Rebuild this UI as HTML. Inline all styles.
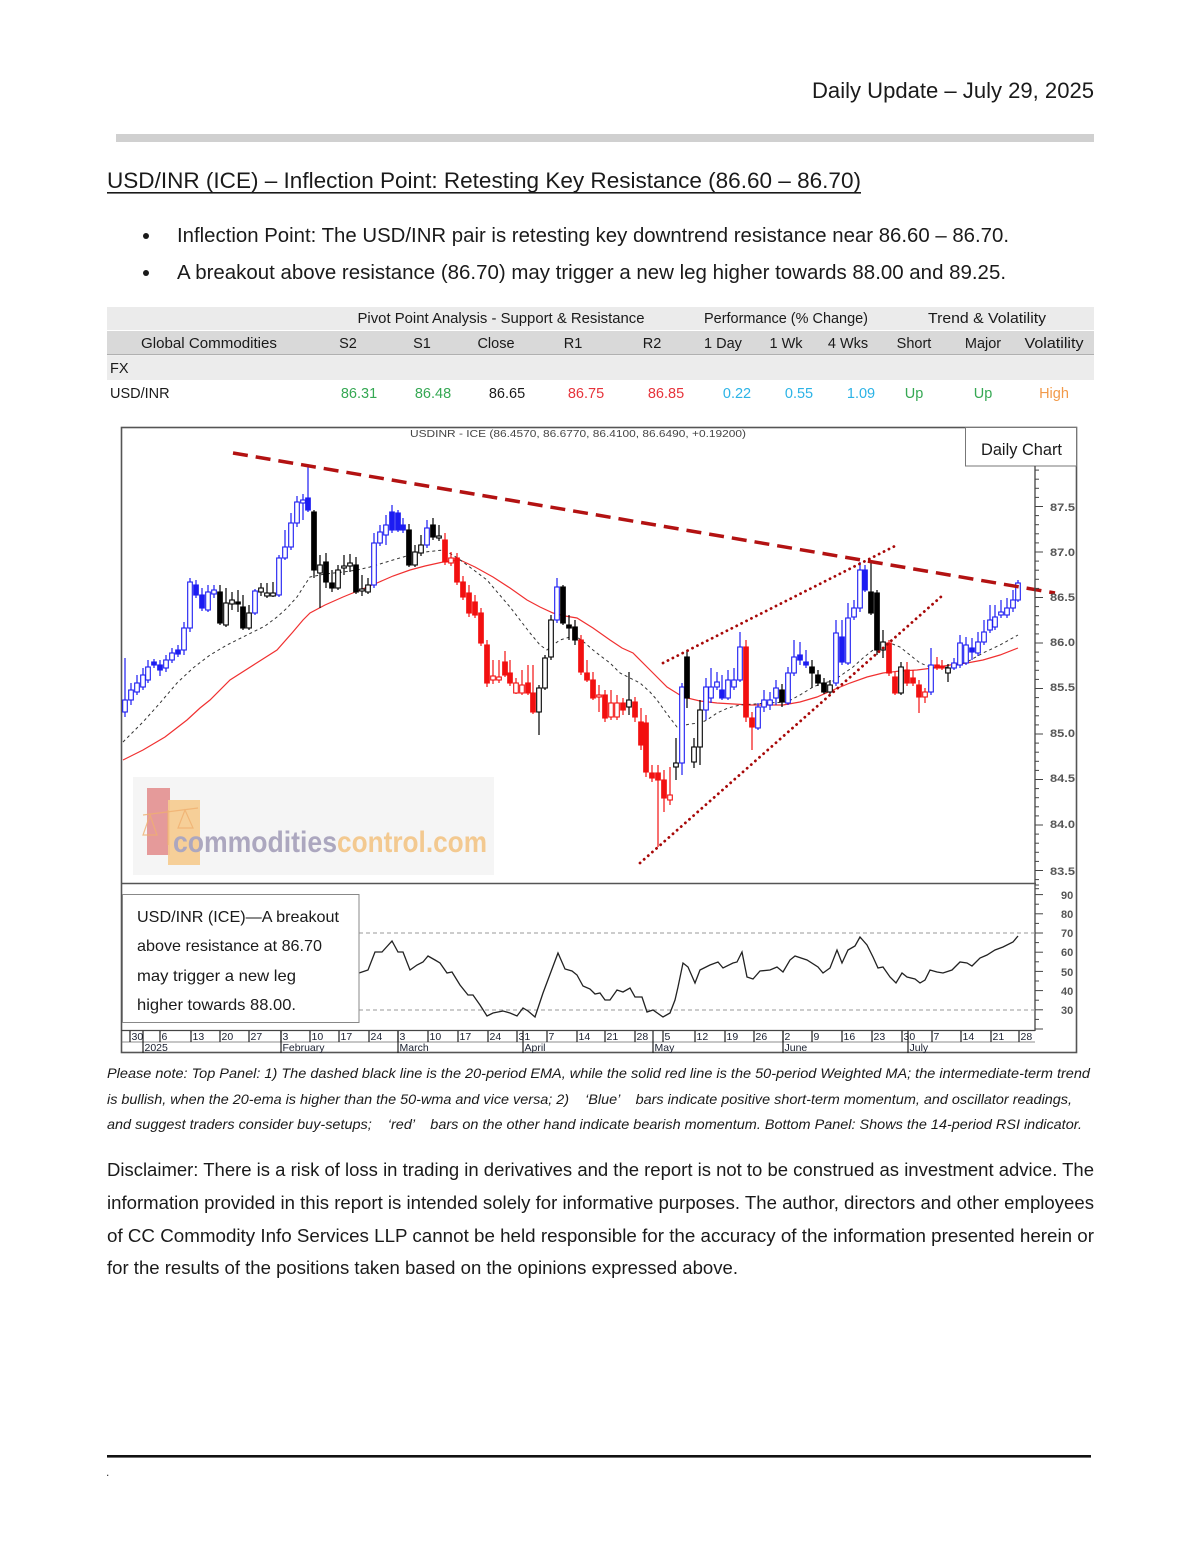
<!DOCTYPE html>
<html><head><meta charset="utf-8">
<style>
html,body{margin:0;padding:0;background:#fff;}
svg{display:block;}
text{font-family:"Liberation Sans",Arial,sans-serif;}
</style></head>
<body>
<svg id="pg" xmlns="http://www.w3.org/2000/svg" width="1200" height="1553" viewBox="0 0 1200 1553">
<rect width="1200" height="1553" fill="#fff"/>
<!-- Header -->
<text x="1094" y="98" font-size="22" fill="#1a1a1a" text-anchor="end" textLength="282" lengthAdjust="spacingAndGlyphs">Daily Update – July 29, 2025</text>
<rect x="116" y="134" width="978" height="8" fill="#d0d0d0"/>
<text x="107" y="188" font-size="22" fill="#1a1a1a" textLength="754" lengthAdjust="spacingAndGlyphs">USD/INR (ICE) – Inflection Point: Retesting Key Resistance (86.60 – 86.70)</text>
<rect x="107" y="192" width="754" height="1.6" fill="#1a1a1a"/>
<circle cx="146" cy="236" r="3" fill="#1a1a1a"/>
<circle cx="146" cy="273" r="3" fill="#1a1a1a"/>
<text x="177" y="242" font-size="20" fill="#1a1a1a" textLength="832" lengthAdjust="spacingAndGlyphs">Inflection Point: The USD/INR pair is retesting key downtrend resistance near 86.60 – 86.70.</text>
<text x="177" y="279" font-size="20" fill="#1a1a1a" textLength="829" lengthAdjust="spacingAndGlyphs">A breakout above resistance (86.70) may trigger a new leg higher towards 88.00 and 89.25.</text>

<!-- Table -->
<rect x="107" y="307" width="987" height="23" fill="#ebebeb"/>
<rect x="107" y="331" width="987" height="24" fill="#d9d9d9"/>
<rect x="107" y="354" width="987" height="1.2" fill="#b0b0b0"/>
<rect x="107" y="356" width="987" height="24" fill="#ececec"/>
<g font-size="14.5" fill="#1a1a1a">
<text x="501" y="323" text-anchor="middle" textLength="287" lengthAdjust="spacingAndGlyphs">Pivot Point Analysis - Support &amp; Resistance</text>
<text x="786" y="323" text-anchor="middle" textLength="164" lengthAdjust="spacingAndGlyphs">Performance (% Change)</text>
<text x="987" y="323" text-anchor="middle" textLength="118" lengthAdjust="spacingAndGlyphs">Trend &amp; Volatility</text>
<text x="209" y="348" text-anchor="middle" textLength="136" lengthAdjust="spacingAndGlyphs">Global Commodities</text>
<text x="348" y="348" text-anchor="middle">S2</text>
<text x="422" y="348" text-anchor="middle">S1</text>
<text x="496" y="348" text-anchor="middle">Close</text>
<text x="573" y="348" text-anchor="middle">R1</text>
<text x="652" y="348" text-anchor="middle">R2</text>
<text x="723" y="348" text-anchor="middle">1 Day</text>
<text x="786" y="348" text-anchor="middle">1 Wk</text>
<text x="848" y="348" text-anchor="middle">4 Wks</text>
<text x="914" y="348" text-anchor="middle">Short</text>
<text x="983" y="348" text-anchor="middle">Major</text>
<text x="1054" y="348" text-anchor="middle" textLength="59" lengthAdjust="spacingAndGlyphs">Volatility</text>
<text x="110" y="373">FX</text>
<text x="110" y="398">USD/INR</text>
<text x="359" y="398" text-anchor="middle" fill="#35a853">86.31</text>
<text x="433" y="398" text-anchor="middle" fill="#35a853">86.48</text>
<text x="507" y="398" text-anchor="middle">86.65</text>
<text x="586" y="398" text-anchor="middle" fill="#e6333b">86.75</text>
<text x="666" y="398" text-anchor="middle" fill="#e6333b">86.85</text>
<text x="737" y="398" text-anchor="middle" fill="#2bb3e6">0.22</text>
<text x="799" y="398" text-anchor="middle" fill="#2bb3e6">0.55</text>
<text x="861" y="398" text-anchor="middle" fill="#2bb3e6">1.09</text>
<text x="914" y="398" text-anchor="middle" fill="#35a853">Up</text>
<text x="983" y="398" text-anchor="middle" fill="#35a853">Up</text>
<text x="1054" y="398" text-anchor="middle" fill="#f29a4a">High</text>
</g>

<!-- Chart frame -->
<rect x="121.5" y="427.5" width="955" height="625" fill="#fff" stroke="#555" stroke-width="1.6"/>
<text x="578" y="437" font-size="10" fill="#444" text-anchor="middle" textLength="336" lengthAdjust="spacingAndGlyphs">USDINR - ICE (86.4570, 86.6770, 86.4100, 86.6490, +0.19200)</text>

<!-- watermark -->
<rect x="133" y="777" width="361" height="98" fill="#f5f5f5"/>
<rect x="147" y="788" width="23" height="67" fill="#e39090" opacity="0.9"/>
<rect x="168" y="800" width="32" height="65" fill="#f6cb8e" opacity="0.9"/>
<g stroke="#f0b070" stroke-width="1.2" fill="none" opacity="0.8">
<line x1="143" y1="815" x2="198" y2="808"/>
<path d="M150 815 L143 835 L157 835 Z"/>
<path d="M185 810 L178 828 L193 828 Z"/>
<line x1="168" y1="810" x2="168" y2="845"/>
</g>
<text x="173" y="852" font-size="30" font-weight="bold" fill="#aca7bf" textLength="164" lengthAdjust="spacingAndGlyphs">commodities</text>
<text x="337" y="852" font-size="30" font-weight="bold" fill="#f3c990" textLength="150" lengthAdjust="spacingAndGlyphs">control.com</text>

<!-- MAs -->
<polyline fill="none" stroke="#f03030" stroke-width="1.2" points="123,760 143,750 165,737 187,720 200,708 210,700 230,680 255,664 277,650 292,633 303,620 310,613 325,605 343,597 360,590 377,583 393,576 410,570 425,566 443,562 460,560 475,567 493,577 510,588 527,600 540,607 553,613 565,616 577,618 593,628 610,640 622,648 633,653 650,670 667,687 683,697 700,701 717,703 750,705 783,705 800,702 817,697 833,690 850,683 867,677 883,673 900,671 917,670 933,668 950,665 967,663 983,660 1000,655 1018,648"/>
<polyline fill="none" stroke="#333" stroke-width="1" stroke-dasharray="3,3" points="123,742 143,722 160,703 177,683 193,668 210,655 227,645 243,637 253,632 265,626 277,617 287,608 297,597 304,586 310,577 325,574 343,572 357,570 370,567 380,564 393,560 410,555 425,552 443,550 453,555 463,562 475,571 487,580 498,593 510,607 520,620 530,633 540,645 547,650 553,645 560,640 570,637 577,637 585,643 593,650 602,657 610,663 620,673 630,678 640,683 650,692 657,700 667,714 677,727 690,724 700,723 707,720 717,713 728,708 740,705 755,704 767,703 787,702 800,695 813,687 823,683 833,681 843,674 853,667 863,658 873,650 883,645 890,643 900,647 910,655 920,663 933,668 950,667 967,662 983,653 1000,645 1018,635"/>

<g id="candles"></g>

<!-- trend lines -->
<line x1="233" y1="453" x2="1055" y2="593" stroke="#b31212" stroke-width="3.5" stroke-dasharray="15,8"/>
<line x1="663" y1="663" x2="897" y2="545" stroke="#a80808" stroke-width="2.8" stroke-linecap="round" stroke-dasharray="0.1,5.4"/>
<line x1="640" y1="863" x2="943" y2="595" stroke="#a80808" stroke-width="2.8" stroke-linecap="round" stroke-dasharray="0.1,5.4"/>

<!-- Daily chart box -->
<rect x="965.5" y="427.5" width="111" height="38.5" fill="#fff" stroke="#777" stroke-width="1"/>
<text x="981" y="455" font-size="17" fill="#1a1a1a" textLength="81" lengthAdjust="spacingAndGlyphs">Daily Chart</text>

<!-- axes -->
<line x1="1035" y1="466" x2="1035" y2="1031" stroke="#444" stroke-width="1.3"/>
<line x1="121" y1="883.5" x2="1036" y2="883.5" stroke="#555" stroke-width="1.6"/>
<g id="pticks" stroke="#444" stroke-width="1"></g>
<g font-size="11" fill="#555" font-weight="bold">
<text x="1050" y="511" textLength="25" lengthAdjust="spacingAndGlyphs">87.5</text>
<text x="1050" y="556" textLength="25" lengthAdjust="spacingAndGlyphs">87.0</text>
<text x="1050" y="601" textLength="25" lengthAdjust="spacingAndGlyphs">86.5</text>
<text x="1050" y="646" textLength="25" lengthAdjust="spacingAndGlyphs">86.0</text>
<text x="1050" y="691" textLength="25" lengthAdjust="spacingAndGlyphs">85.5</text>
<text x="1050" y="737" textLength="25" lengthAdjust="spacingAndGlyphs">85.0</text>
<text x="1050" y="782" textLength="25" lengthAdjust="spacingAndGlyphs">84.5</text>
<text x="1050" y="828" textLength="25" lengthAdjust="spacingAndGlyphs">84.0</text>
<text x="1050" y="875" textLength="25" lengthAdjust="spacingAndGlyphs">83.5</text>
<text x="1061" y="899">90</text>
<text x="1061" y="918">80</text>
<text x="1061" y="937">70</text>
<text x="1061" y="956">60</text>
<text x="1061" y="976">50</text>
<text x="1061" y="995">40</text>
<text x="1061" y="1014">30</text>
</g>

<!-- RSI -->
<line x1="359" y1="933" x2="1035" y2="933" stroke="#999" stroke-width="1" stroke-dasharray="4,3"/>
<line x1="359" y1="1010" x2="1035" y2="1010" stroke="#999" stroke-width="1" stroke-dasharray="4,3"/>
<polyline fill="none" stroke="#222" stroke-width="1.3" points="359,973 368,970 375,952 382,952 392,941 398,952 403,952 410,970 417,965 423,962 428,956 435,960 440,963 447,973 452,972 460,985 468,995 473,995 480,1005 487,1016 493,1013 503,1011 510,1013 517,1016 523,1008 528,1011 535,1017 543,993 558,953 565,969 572,971 577,975 583,986 590,989 595,994 600,993 605,1000 610,1000 617,990 623,992 630,988 635,997 642,997 647,1012 653,1010 663,1017 670,1013 675,1000 678,987 683,963 688,967 695,983 700,970 710,965 718,962 723,968 733,963 737,962 742,952 747,977 753,979 760,971 770,970 777,967 783,972 790,960 795,956 807,960 818,967 823,973 830,968 837,950 842,963 848,950 855,946 860,937 867,945 873,957 878,968 883,967 890,977 896,983 902,973 907,977 915,979 920,983 925,980 930,970 937,972 943,973 952,970 960,962 967,963 972,966 980,958 987,955 995,950 1003,947 1013,942 1018,936"/>
<rect x="122.5" y="894.5" width="236.5" height="128" fill="#fff" stroke="#888" stroke-width="1"/>
<g font-size="16" fill="#1a1a1a">
<text x="137" y="922" textLength="202" lengthAdjust="spacingAndGlyphs">USD/INR (ICE)—A breakout</text>
<text x="137" y="951" textLength="185" lengthAdjust="spacingAndGlyphs">above resistance at 86.70</text>
<text x="137" y="981" textLength="159" lengthAdjust="spacingAndGlyphs">may trigger a new leg</text>
<text x="137" y="1010" textLength="159" lengthAdjust="spacingAndGlyphs">higher towards 88.00.</text>
</g>

<!-- date axis -->
<line x1="121" y1="1030.5" x2="1035" y2="1030.5" stroke="#444" stroke-width="1.2"/>
<line x1="121" y1="1042" x2="1035" y2="1042" stroke="#666" stroke-width="0.8"/>
<g id="dates" font-size="10.5" fill="#1a2030"></g>

<!-- notes -->
<g font-size="14" font-style="italic" fill="#1a1a1a">
<text x="107" y="1078" textLength="983" lengthAdjust="spacingAndGlyphs">Please note: Top Panel: 1) The dashed black line is the 20-period EMA, while the solid red line is the 50-period Weighted MA; the intermediate-term trend</text>
<text x="107" y="1104" textLength="965" lengthAdjust="spacingAndGlyphs" xml:space="preserve">is bullish, when the 20-ema is higher than the 50-wma and vice versa; 2)    ‘Blue’    bars indicate positive short-term momentum, and oscillator readings,</text>
<text x="107" y="1129" textLength="975" lengthAdjust="spacingAndGlyphs" xml:space="preserve">and suggest traders consider buy-setups;    ‘red’    bars on the other hand indicate bearish momentum. Bottom Panel: Shows the 14-period RSI indicator.</text>
</g>
<g font-size="18" fill="#1a1a1a">
<text x="107" y="1176" textLength="987" lengthAdjust="spacingAndGlyphs">Disclaimer: There is a risk of loss in trading in derivatives and the report is not to be construed as investment advice. The</text>
<text x="107" y="1209" textLength="987" lengthAdjust="spacingAndGlyphs">information provided in this report is intended solely for informative purposes. The author, directors and other employees</text>
<text x="107" y="1242" textLength="987" lengthAdjust="spacingAndGlyphs">of CC Commodity Info Services LLP cannot be held responsible for the accuracy of the information presented herein or</text>
<text x="107" y="1274" textLength="631" lengthAdjust="spacingAndGlyphs">for the results of the positions taken based on the opinions expressed above.</text>
</g>
<rect x="107" y="1455" width="984" height="2.6" fill="#111"/>
<text x="106" y="1476" font-size="12" fill="#333">.</text>
</svg>
<script>
(function(){
var C=[
[125,700,712,658,717,'b'],[131,690,700,683,705,'b'],[137,683,692,675,695,'b'],[143,675,687,668,690,'b'],[148,667,680,660,683,'b'],
[154,662,665,659,668,'B'],[160,665,670,660,676,'B'],[166,660,668,655,672,'b'],[172,653,660,648,663,'b'],[178,650,654,645,657,'B'],
[184,628,650,622,655,'b'],[190,582,628,578,632,'b'],[196,585,595,580,598,'B'],[202,595,608,588,611,'B'],[208,592,610,585,612,'b'],
[214,590,594,585,598,'b'],[220,592,623,585,625,'K'],[226,603,625,588,627,'k'],[232,600,604,592,610,'k'],[238,602,604,590,612,'K'],
[243,607,628,595,630,'K'],[249,613,628,605,630,'k'],[255,591,613,589,615,'b'],[261,588,592,583,596,'k'],[267,593,596,583,598,'k'],
[273,593,596,582,597,'k'],[279,558,595,555,597,'b'],[285,547,558,530,560,'b'],[291,523,547,513,550,'b'],[297,502,523,496,527,'b'],
[303,500,503,494,520,'b'],[308,498,510,465,512,'B'],[314,512,570,510,578,'K'],[320,565,573,555,608,'k'],[326,562,582,553,588,'K'],
[332,583,588,570,592,'K'],[338,570,588,565,590,'k'],[344,566,568,555,575,'k'],[350,563,566,554,572,'k'],[356,565,592,557,594,'K'],
[362,589,591,575,596,'k'],[368,585,592,578,594,'k'],[374,543,585,533,588,'b'],[380,532,543,525,546,'b'],[386,525,535,515,545,'b'],
[392,512,530,505,533,'B'],[398,513,530,510,532,'B'],[403,525,530,518,533,'B'],[409,530,565,524,567,'K'],[415,552,565,545,567,'k'],
[421,545,553,535,556,'k'],[427,528,545,520,548,'b'],[433,525,537,518,540,'K'],[439,536,538,525,541,'k'],[445,540,562,533,565,'R'],
[451,558,563,552,566,'r'],[457,558,582,553,585,'R'],[463,582,597,576,600,'R'],[469,593,613,585,617,'R'],[475,602,615,595,618,'R'],
[481,613,643,608,646,'R'],[487,645,683,640,687,'R'],[493,676,680,660,684,'r'],[499,677,680,660,683,'r'],[505,662,675,651,677,'R'],
[510,673,683,660,686,'R'],[516,683,693,678,694,'r'],[522,685,693,670,695,'r'],[528,683,693,665,695,'R'],[533,693,712,665,714,'R'],
[539,688,712,685,735,'k'],[545,658,688,655,690,'k'],[551,620,657,615,660,'k'],[557,587,620,578,623,'b'],[563,587,623,585,625,'K'],
[569,625,628,615,640,'K'],[575,627,640,620,645,'K'],[581,640,672,635,675,'R'],[587,673,680,660,682,'R'],[593,680,698,672,700,'R'],
[599,695,697,685,712,'r'],[605,695,718,690,722,'R'],[611,703,717,690,720,'r'],[617,703,717,695,720,'r'],[623,703,710,698,715,'R'],
[629,700,707,672,715,'k'],[635,702,717,697,722,'R'],[641,722,745,708,750,'R'],[646,723,772,715,777,'R'],[652,773,778,765,782,'R'],
[658,773,780,765,847,'R'],[664,780,798,770,812,'R'],[670,795,800,767,805,'r'],[676,763,767,738,780,'k'],[682,687,763,683,775,'b'],
[687,657,698,650,708,'K'],[694,747,762,738,768,'k'],[700,710,747,700,765,'k'],[706,687,710,678,720,'b'],[711,687,698,668,703,'b'],
[717,682,687,672,690,'b'],[722,690,698,675,700,'B'],[728,680,698,670,700,'b'],[734,680,687,668,690,'b'],[740,647,680,632,682,'b'],
[746,647,717,640,722,'R'],[752,718,727,712,750,'R'],[758,707,728,703,730,'b'],[764,700,707,690,712,'b'],[770,700,705,692,710,'b'],
[776,688,698,680,705,'b'],[782,690,702,684,707,'K'],[788,673,703,667,705,'b'],[794,657,673,640,676,'b'],[800,655,660,642,665,'B'],
[806,662,665,650,668,'B'],[812,667,673,660,688,'K'],[818,675,683,670,686,'K'],[824,683,692,678,694,'K'],[830,685,692,680,694,'k'],
[836,633,683,620,686,'b'],[842,637,662,620,665,'B'],[848,618,663,603,665,'b'],[854,608,617,600,620,'b'],[860,570,608,562,612,'b'],
[865,570,590,565,592,'B'],[871,592,613,562,615,'K'],[877,593,650,590,655,'K'],[883,642,650,630,658,'k'],[889,643,673,640,676,'R'],
[895,677,693,672,695,'R'],[901,667,693,662,695,'k'],[907,670,683,662,686,'R'],[913,678,683,670,686,'R'],[919,685,697,680,713,'R'],
[925,692,697,688,703,'r'],[931,665,692,648,695,'b'],[937,665,668,657,670,'R'],[942,666,668,660,670,'R'],[948,668,673,664,682,'k'],
[954,663,668,658,670,'b'],[960,643,665,635,668,'b'],[966,645,663,637,665,'b'],[972,648,652,638,660,'B'],[978,642,653,632,656,'b'],
[984,632,642,620,645,'b'],[990,620,630,605,633,'b'],[995,617,627,605,630,'b'],[1001,612,615,600,618,'b'],[1007,608,615,598,618,'b'],
[1013,600,608,590,612,'b'],[1018,583,600,580,602,'b']];
var col={b:'#1c1cf2',B:'#1c1cf2',k:'#000',K:'#000',r:'#f21010',R:'#f21010'};
var s='';
for(var i=0;i<C.length;i++){var d=C[i],x=d[0],t=d[1],b=d[2],h=d[3],l=d[4],ty=d[5],c=col[ty];
var f=(ty===ty.toUpperCase())?c:'#fff';
s+='<line x1="'+x+'" y1="'+h+'" x2="'+x+'" y2="'+l+'" stroke="'+c+'" stroke-width="1.2"/>';
var hh=Math.max(b-t,1.5);
s+='<rect x="'+(x-2.3)+'" y="'+t+'" width="4.6" height="'+hh+'" fill="'+f+'" stroke="'+c+'" stroke-width="1.1"/>';}
document.getElementById('candles').innerHTML=s;
var p='';
for(var v=83.3;v<=87.95;v+=0.1){var y=552+(87-v)*91;var major=Math.abs(v*2-Math.round(v*2))<0.01;
p+='<line x1="1035" y1="'+y.toFixed(1)+'" x2="'+(major?1043:1039)+'" y2="'+y.toFixed(1)+'"/>';}
for(var r=20;r<=95;r+=5){var y2=933+(70-r)*1.92;var mj=(r%10===0);
p+='<line x1="1035" y1="'+y2.toFixed(1)+'" x2="'+(mj?1043:1039)+'" y2="'+y2.toFixed(1)+'"/>';}
document.getElementById('pticks').innerHTML=p;
var D=[[130,'30'],[160,'6'],[191,'13'],[220,'20'],[249,'27'],[281,'3'],[310,'10'],[339,'17'],[369,'24'],[398,'3'],[428,'10'],[458,'17'],[488,'24'],[517,'31'],[547,'7'],[577,'14'],[605,'21'],[635,'28'],[663,'5'],[695,'12'],[725,'19'],[754,'26'],[783,'2'],[812,'9'],[842,'16'],[872,'23'],[902,'30'],[932,'7'],[961,'14'],[991,'21'],[1019,'28']];
var M=[[143,'2025'],[281,'February'],[398,'March'],[523,'April'],[653,'May'],[783,'June'],[908,'July']];
var q='';
for(var j=0;j<D.length;j++){q+='<line x1="'+D[j][0]+'" y1="1031" x2="'+D[j][0]+'" y2="1042" stroke="#222" stroke-width="1.2"/>';
q+='<text x="'+(D[j][0]+1.5)+'" y="1040">'+D[j][1]+'</text>';}
for(var k=0;k<M.length;k++){q+='<line x1="'+M[k][0]+'" y1="1031" x2="'+M[k][0]+'" y2="1053" stroke="#222" stroke-width="1.2"/>';
q+='<text x="'+(M[k][0]+1.5)+'" y="1051">'+M[k][1]+'</text>';}
document.getElementById('dates').innerHTML=q;
})();
</script>
</body></html>
